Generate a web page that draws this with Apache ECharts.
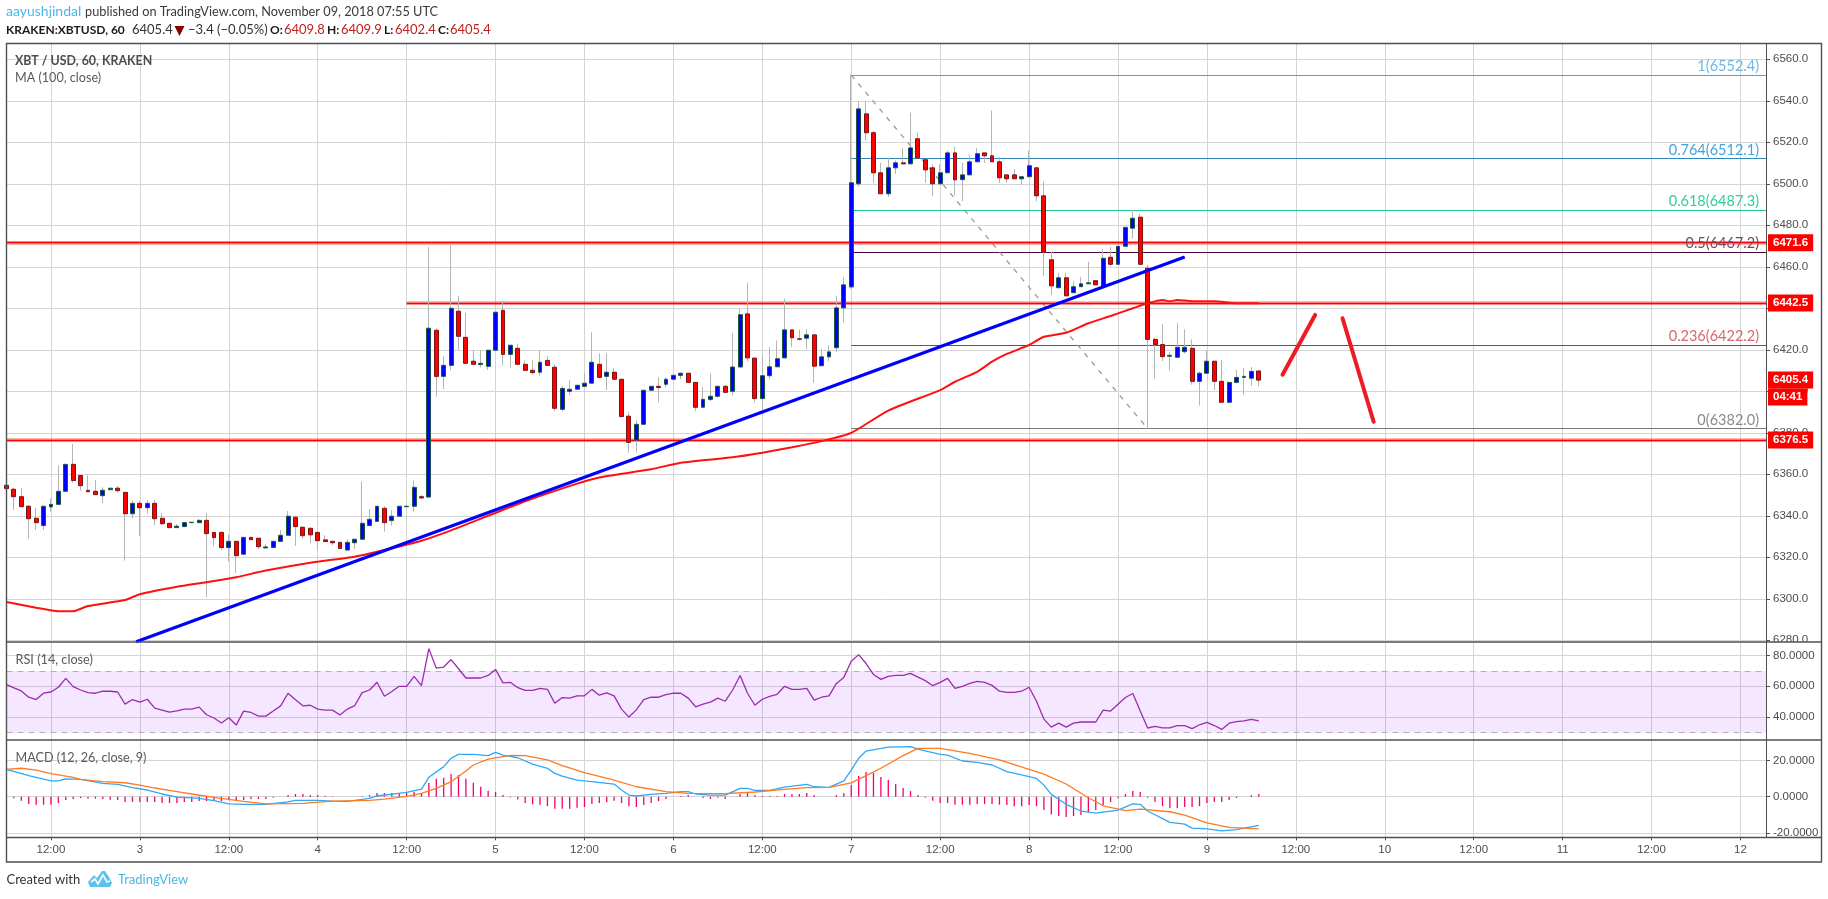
<!DOCTYPE html>
<html><head><meta charset="utf-8">
<style>html,body{margin:0;padding:0;background:#fff}#c{width:1828px;height:899px}</style>
<script src="https://cdn.jsdelivr.net/npm/echarts@6/dist/echarts.min.js"></script>
</head><body><div id="c"></div>
<script>
// Hours are counted from 3 Nov 2018 00:00 UTC; the first candle is at hour -18.
const firstHour = -18;
const opens = [6354.7,6352.8,6349.2,6344.6,6338.8,6335.3,6344.3,6345.5,6351.8,6364.8,6359.4,6352.3,6351.8,6349.7,6352.6,6353.3,6351.3,6341,
6346,6343.9,6346,6338.8,6336.4,6334.3,6334.8,6336.7,6336.7,6337.8,6332,6332,6324.7,6327.7,6321.5,6329.6,6329.2,6324.5,6324.7,6327.7,6330.6,6339.3,6334.5,6334,
6332,6328.4,6327.7,6327.2,6323.5,6327,6328.7,6335.3,6337.3,6343.6,6337.7,6339.8,6344.4,6344.6,6349.2,6349,6429.4,6407.2,6412.5,6438.6,6426,6414.5,6412.9,6412,
6419.8,6439,6417.8,6420.7,6413,6410.1,6409.2,6414.9,6411.6,6391.3,6400,6401,6402.4,6403.9,6413,6407.2,6409.2,6405.8,6388,6376.5,6384.1,6400.5,6402.4,6403.4,
6405.8,6407.7,6408.7,6404.3,6392.3,6396.1,6397.6,6402.4,6400,6411.7,6437.3,6416,6396.5,6407.5,6411.8,6416.1,6429.6,6425.3,6425.6,6427.2,6412.3,6416.6,6421,6440.2,
6450.3,6500,6533.7,6524.6,6505.3,6495.2,6507.7,6510.1,6509.6,6521.7,6511.6,6507.7,6500,6505.3,6514.9,6502,6504.3,6510.6,6514.9,6513.5,6510.6,6504.3,6504.3,6502.4,
6503.4,6507.7,6494.2,6463.4,6449.9,6454.7,6447.5,6450.4,6451.8,6453.3,6450.8,6464.6,6461.2,6469.9,6478.6,6483.9,6459.3,6425,6422.5,6416.9,6416.4,6419.1,6420.7,6404.8,
6408.7,6414.5,6404.8,6394.7,6404.3,6406.7,6406.3,6409.8];
const closes = [6353.1,6349.2,6344.4,6338.6,6336.7,6344.6,6345.5,6351.8,6364.8,6357,6354.5,6351.6,6350.2,6352.3,6353.3,6352.1,6341,6346,
6343.9,6346,6338.6,6336.2,6334.3,6335,6336.7,6336.9,6337.8,6331.4,6329.5,6324.7,6327.7,6320.8,6329.6,6328.5,6325.1,6325,6327.7,6330.6,6339.8,6334.8,6330.4,6330.8,
6328,6327.6,6327,6324.2,6327.2,6328.7,6336.4,6338.3,6344.6,6336.7,6339.8,6344.6,6344.6,6353.7,6348.6,6430.4,6407.2,6412.5,6440,6426.5,6413.5,6413,6413.5,6419.8,
6438.1,6417.8,6422.2,6413,6410.1,6409,6414,6412.5,6391.8,6401.4,6401,6402.9,6403.9,6414,6406.7,6409.2,6405.8,6387.8,6375.4,6384.1,6400.5,6402.4,6401.8,6405.8,
6407.7,6408.7,6404.3,6392.3,6396.1,6397.6,6402.4,6399.5,6411.7,6436.9,6416.1,6396.5,6407.5,6411.8,6415.7,6429.6,6425.8,6425.1,6427.2,6412.1,6416.6,6419,6440.2,6451.3,
6500.5,6536.1,6524.6,6505.3,6495.2,6507.7,6510.1,6509.6,6517.3,6512.5,6506.7,6500,6505.3,6514.9,6501.9,6504.3,6510.6,6514.5,6513.5,6510.6,6502.9,6502.4,6502.4,6503.4,
6508.7,6494.2,6467.2,6450.8,6454.7,6446,6450.4,6451.8,6452.3,6451.3,6464.1,6461.2,6469.9,6479,6483.4,6461.2,6425,6422.5,6416.7,6417.3,6421.2,6421.2,6404.8,6408.7,
6414.5,6404.8,6394.7,6404.3,6406.7,6407.2,6409.6,6405.4];
const lows = [6352,6342.8,6344,6329,6333.2,6333.2,6342,6345.5,6351.8,6356,6352.1,6351.6,6350.2,6346.2,6352.1,6351.2,6318.4,6338.6,
6330.3,6341,6335.6,6335.6,6334,6334.3,6334.8,6336.7,6336.7,6300.8,6325.5,6323.5,6317.9,6312.4,6321,6328.5,6324,6324.5,6324.7,6327.7,6330.6,6325.5,6329,6326.9,
6323.5,6327.6,6325.8,6324.2,6323.5,6324,6328.7,6335.3,6337.3,6332.4,6335.3,6339.8,6344.4,6342,6348,6349,6397.4,6401.1,6410.3,6419.9,6413.5,6413,6411.4,6410.3,
6419.8,6412.4,6411.4,6413,6410.1,6408,6407.6,6412.5,6390.4,6390.4,6398,6401,6402.4,6403.9,6406.7,6400.6,6405.8,6387.8,6370.4,6370.4,6384.1,6400.5,6394.7,6401.9,
6405.8,6405.8,6404.3,6390.4,6392.3,6395.2,6397,6399.5,6398,6411.7,6414.5,6394.7,6391,6405.7,6411.8,6416.1,6421.3,6424.5,6420.2,6404.1,6412.3,6414.5,6419,6433.3,
6449.4,6498.6,6521,6500.5,6495.2,6493.7,6504.8,6509.6,6509.6,6512.5,6500.5,6494,6500,6505.3,6494.4,6491.6,6504.3,6510.6,6510,6510.6,6500.5,6500.5,6502.4,6499.4,
6503.4,6491.6,6455.5,6446.5,6449.9,6446,6447.5,6450.4,6451.8,6451.3,6450.8,6460.1,6461.2,6469.9,6473.7,6461.2,6381.7,6406.1,6414.6,6410,6416.4,6418.2,6403.2,6393.1,
6408.7,6400.6,6394.7,6394.2,6404.3,6398.4,6402.7,6402.4];
const highs = [6355,6353.3,6353.3,6345.2,6344,6344.6,6348.4,6364.3,6364.8,6374.6,6359.4,6359.5,6357.3,6353.7,6353.3,6354.4,6351.3,6347.2,
6347.2,6347.6,6347.6,6341.2,6336.5,6336,6336.7,6336.9,6338.6,6341.2,6332,6332.5,6331,6327.7,6329.6,6329.6,6329.2,6326.3,6328,6333.2,6342.3,6340,6334.5,6334,
6332,6330.6,6327.7,6327.5,6328.7,6328.7,6356.5,6343.3,6344.6,6344.6,6342.8,6344.6,6344.6,6357,6350,6469.6,6430.4,6417,6471.3,6445.9,6437.8,6419.9,6419.8,6419.8,
6438.1,6443.5,6422.2,6422.7,6414.9,6414.9,6419.8,6416.9,6413,6402.4,6405.3,6402.9,6408.7,6428.4,6418.3,6418.3,6411.1,6405.8,6389.9,6386.2,6400.5,6402.4,6406.7,6406.7,
6407.7,6409.2,6408.7,6404.3,6402.1,6408.7,6402.4,6403,6428.2,6439.8,6452.3,6416,6417,6421.3,6424.5,6444.7,6429.6,6429.8,6430.1,6427.2,6420.5,6422.1,6446,6455.2,
6552.7,6539.8,6539.8,6525.4,6510.1,6512.5,6511.2,6517.3,6534.2,6524.6,6511.6,6509.3,6509.3,6516,6517.8,6510.1,6514.1,6517.3,6514.9,6535.3,6513,6504.3,6507,6503.4,
6516,6507.7,6501,6467.2,6457.1,6457.1,6453,6455.2,6462.4,6453.3,6468.4,6469.7,6469.9,6479,6487.4,6485.5,6460.9,6426,6432.3,6418.8,6432.8,6429.9,6425,6409.6,
6419.8,6414.5,6415.1,6404.3,6410.3,6411.2,6411.7,6409.9];
const maPoints = [[-18,6298.5],[-14,6295.7],[-11,6294],[-9,6294],[-7,6296.5],[-2,6299.4],[0,6302.2],[5,6305.8],[9,6308],[13,6310.4],[17,6313.6],[23,6317.4],[29,6320.3],[33,6323.5],[38,6328],[42,6333],[47,6340],[52,6347],[59,6355.5],[62,6358.5],[69,6362.4],[73,6365.6],[80,6368.2],[84,6370.4],[88,6373],[92,6376],[96,6380],[101,6390.7],[108,6400.6],[110,6404.6],[113,6409.4],[115,6414.3],[117,6418],[120,6422.3],[122,6426.3],[125,6428.2],[128,6432.8],[131,6436.3],[134,6440],[136,6442.4],[138,6444],[139,6443.4],[140,6444],[142,6443.4],[145,6443.4],[148,6442.4],[151,6442.4]];
const trendLine = [[-0.5,6279.3],[141,6464.7]];
const arrowUp = [[154.2,6408],[158.6,6436.8]];
const arrowDown = [[162.3,6435.2],[166.5,6385.3]];
const fibLevels = [[1,6552.4,'#5b9fc9','#6cb7e6'],[0.764,6512.1,'#2f86bd','#46a3de'],[0.618,6487.3,'#1fc795','#2fcf9d'],[0.5,6467.2,'#4a0c38','#6e4a66'],[0.236,6422.2,'#c92a2a','#d9686a'],[0,6382.0,'#7a7a7a','#8a8a8a']];
const fibStart = 96, fibEnd = 136;
const rsi = [61.1,59,57,52.9,51.4,55.5,56.3,59.4,65.2,59.8,57.6,55.9,55.5,56.8,56.8,56.3,48.4,51.4,
49.7,51.6,45.8,44.5,43.2,44.1,45.2,45.2,46.5,41.5,39.4,36.1,39.6,34.8,43.9,43,40.6,40.6,43.9,47.3,55.5,51.2,47.3,47.7,
45.2,44.5,44.5,41.3,45.2,47.5,55.9,57.6,62.6,53.5,56.6,60,60,66.5,60.4,84.5,71.8,72.5,77.4,71.4,65.4,65.4,65.4,67.1,
71,62.2,62.6,59.1,57.4,57.4,58.7,58,49,52.7,52.3,53.8,53.8,58,54.2,55.7,53.8,45.2,40,44.7,51.4,52.9,52.9,54.6,
55.5,55.5,52.3,46.7,48.4,49.7,52.3,50.3,57.6,67,55.5,47.7,51.6,53.5,54.8,60,58,58,58.7,51,52.9,53.8,61.9,65.8,
76.3,80.6,74.8,67.7,64.5,66.5,67.1,67.1,68.4,66,63.7,60.4,62.6,65.2,58.7,60,61.9,63.2,62.6,60.6,56.8,56.1,56.1,56.8,
59.4,50.3,38.7,33.5,36.1,33.5,36.1,36.8,36.8,36.8,44.5,43.9,48.4,52.7,55.3,43.9,32.9,34,33,33,34.5,34.5,32.5,35,
36.5,34.5,32,36,37,37.5,38.5,37.5];
const macdLine = [[-18,15.1],[-15,11.6],[-12,8.7],[-11,8.7],[-10,9.8],[-8,9.6],[-5,7.4],[-3,6.8],[-1,5],[1,3.7],[3,1.5],[5,-0.2],[8,-0.9],[10,-2.2],[12,-3.9],[14,-4.2],[17,-4.2],[20,-2.8],[21,-2],[24,-2],[26,-2.4],[28,-2.6],[31,-0.9],[32,0.4],[36,2.4],[38,4.2],[39,10.7],[41,16.6],[42,21.2],[43,23.4],[45,23.4],[47,22.7],[48,24.5],[49,23],[51,21.5],[53,18],[55,15.7],[56,12.9],[57,11.4],[59,9.2],[60,8.7],[64,7],[65,3.7],[66,0.9],[67,0.4],[69,1.3],[71,1.8],[73,2.8],[74,2.8],[75,1.5],[77,0.9],[79,0.9],[81,4.6],[82,4.6],[83,3.5],[85,3.5],[87,5.3],[90,6.8],[91,5.5],[93,5.2],[95,8.7],[96,14.7],[97,21.2],[98,25.2],[101,27.4],[104,27.6],[105,26.3],[108,23.4],[109,23],[111,19.7],[113,19],[115,17.5],[117,13.8],[119,12],[121,10.1],[122,6.4],[123,1.3],[125,-4.2],[127,-7.9],[129,-9],[132,-7.4],[134,-4],[135,-4.2],[136,-7.9],[139,-14.2],[141,-15.1],[142,-17.3],[144,-17.7],[146,-18.8],[148,-18.2],[151,-15.8]];
const signalLine = [[-18,15.1],[-16,15.7],[-14,14.7],[-12,12.7],[-9,10.7],[-8,9.6],[-5,8.3],[-2,7.7],[0,6.4],[2,4.8],[5,2.8],[7,1.5],[10,-0.4],[14,-2.6],[17,-3.9],[22,-3.7],[26,-2.4],[31,-2],[33,-1.3],[36,0.2],[38,1.8],[40,4.6],[42,8.3],[44,14.2],[45,17.5],[47,20.8],[50,22.8],[52,22.7],[55,20.3],[57,17.1],[60,13.3],[64,9.2],[67,5.5],[71,2.8],[74,1.8],[79,1.7],[83,2.6],[87,4],[90,5],[93,5.2],[96,7.6],[98,11.6],[100,15.7],[103,22.7],[105,26.7],[108,26.7],[112,23.9],[116,20.3],[120,15.1],[122,12.5],[125,7],[128,-0.6],[130,-5],[133,-7.7],[135,-6.8],[139,-8.3],[141,-10.1],[144,-14.4],[147,-16.9],[151,-17.7]];
const macdHist = [0,-0.9,-2.2,-4,-4.4,-4.4,-4.4,-3.5,-1.8,-1.3,-0.7,-1.1,-1.1,-1.3,-1.7,-1.8,-2.9,-2.9,
-2.9,-2.9,-2.9,-3.5,-3.5,-3.5,-2.9,-2.9,-2.4,-2.4,-2,-2.4,-2,-2,-1.8,-1.3,-1.3,-1.3,-0.6,0,0.9,1.5,1.5,0.9,
0.9,0.5,0.3,0,0,0,0.3,0.9,2,2,2,1.7,2,2.8,2,7.6,9.9,10.5,12.5,12,9.9,7.7,5.5,3.3,
2.6,0.9,-0.4,-1.5,-3.5,-4.2,-4.4,-5.2,-6.6,-6.6,-6.6,-6.1,-5.7,-4,-3.5,-3.1,-2.2,-3.5,-5.3,-5.7,-4.6,-3.5,-2.4,-1.3,
0,0.4,0.9,0,-0.7,-1.3,-0.6,-1.3,0,1.5,2.2,0.9,0.4,0.4,0.4,1.5,1.5,1.5,2,0.9,0,0,0.9,2,
6.4,11.4,13.6,13.1,10.9,9.2,7,4.8,3.1,0.9,-0.6,-2.2,-3.5,-3.5,-4.4,-4.4,-4.4,-4,-4,-4,-4.4,-4.6,-5.2,-5.2,
-4.6,-5.2,-7.4,-9.8,-10.7,-11.2,-10.7,-10.1,-8.7,-7.4,-4.6,-2.9,-0.9,1.5,3.1,2.6,-0.6,-2.9,-5.2,-6.3,-6.3,-5.7,-5.7,-5.2,
-3.5,-2.9,-2.9,-1.8,-0.7,0,0.9,1.5];
const priceTicks = [6280,6300,6320,6340,6360,6380,6400,6420,6440,6460,6480,6500,6520,6540,6560];
const rsiTicks = [40,60,80];
const macdTicks = [-20,0,20];
const timeTicks = [-12,0,12,24,36,48,60,72,84,96,108,120,132,144,156,168,180,192,204,216];
const timeLabels = ['12:00','3','12:00','4','12:00','5','12:00','6','12:00','7','12:00','8','12:00','9','12:00','10','12:00','11','12:00','12'];
const levelResist1 = 6471.6, levelResist2 = 6442.5, levelSupport = 6376.5, lastPrice = '6405.4', countdown = '04:41';
const level2Start = 36;

const hourOf = i => firstHour + i;
const wickData = opens.map((o,i)=>[hourOf(i),o,closes[i],lows[i],highs[i]]);
const bodyData = opens.map((o,i)=>[hourOf(i),o,closes[i],Math.min(o,closes[i]),Math.max(o,closes[i])]);
const rsiData = rsi.map((v,i)=>[hourOf(i),v]);
const histData = macdHist.map((v,i)=>[hourOf(i),v]);

const GL='#d4d4d4', AX='#505050', TXT='#4d4d4d';
const LEFT=6.5, RIGHT=1766, PX=7.41;
const xMax = firstHour + (RIGHT-LEFT)/PX;
const gridRects=[[44,598],[642,98],[740,97.3]];
function xAxis(i,showLabel){return {type:'value',gridIndex:i,min:firstHour,max:xMax,position:'bottom',
  axisLine:{show:false,onZero:false},
  axisTick:{show:showLabel,customValues:timeTicks,length:3,lineStyle:{color:AX}},
  splitLine:{show:true,lineStyle:{color:GL,width:1}},
  axisLabel:{show:showLabel,customValues:timeTicks,margin:7,color:TXT,fontFamily:'Liberation Sans',fontSize:11.5,
    formatter:v=>timeLabels[timeTicks.indexOf(v)]||''}};}
function yAxis(i,min,max,ticks,fmt){return {type:'value',gridIndex:i,position:'right',min,max,scale:true,
  axisLine:{show:true,onZero:false,lineStyle:{color:AX,width:1}},
  axisTick:{show:true,customValues:ticks,length:4,lineStyle:{color:AX}},
  splitLine:{show:true,lineStyle:{color:GL,width:1}},
  axisLabel:{customValues:ticks,margin:7,color:TXT,fontFamily:'Liberation Sans',fontSize:11.5,formatter:fmt}};}

function tag(txt){return {show:true,position:'end',distance:2,formatter:txt,backgroundColor:'#ff0000',color:'#fff',fontWeight:'bold',
  fontFamily:'Liberation Sans',fontSize:11.5,padding:[3,5,3,5],lineHeight:11};}
const halo={color:'rgba(255,0,0,0.38)',width:3.6,type:'solid'}, core={color:'#ff0000',width:1.4,type:'solid'};
const hidden={color:'rgba(0,0,0,0)',width:1,type:'solid'};
const noLabel={show:false};
function hLevel(v,start,label){
  return [
   [{coord:[start,v],lineStyle:halo,label:noLabel},{coord:[xMax,v]}],
   [{coord:[start,v],lineStyle:core,label:label?tag(label):noLabel},{coord:[xMax,v]}]];
}
const levelLines=[...hLevel(levelResist1,firstHour,String(levelResist1)),...hLevel(levelResist2,level2Start,String(levelResist2)),...hLevel(levelSupport,firstHour,String(levelSupport)),
  [{coord:[firstHour,6405.4],lineStyle:hidden,label:tag(lastPrice)},{coord:[xMax,6405.4]}],
  [{coord:[firstHour,6397.2],lineStyle:hidden,label:tag(countdown)},{coord:[xMax,6397.2]}]];
const fibLines=fibLevels.map(f=>[
  {coord:[fibStart,f[1]],lineStyle:{color:f[2],width:1.2,type:'solid'},
   label:{show:true,position:'insideEndTop',distance:[7,1],formatter:f[0]+'('+f[1].toFixed(1)+')',color:f[3],fontFamily:'Lato',fontSize:14.5}},
  {coord:[xMax,f[1]]}]);
fibLines.push([{coord:[fibStart,fibLevels[0][1]],lineStyle:{color:'#9a9a9a',width:1.3,type:[5,6]},label:noLabel},{coord:[fibEnd,fibLevels[5][1]]}]);

function T(x,y,text,font,fill,extra){return Object.assign({type:'text',z:120,silent:true,style:{x,y,text,font,fill,verticalAlign:'middle'}},extra||{});}
const F13='13px Lato',B13='bold 12px Lato';
const graphics=[
 {type:'rect',z:100,silent:true,shape:{x:RIGHT+1,y:642,width:54,height:8},style:{fill:'#fff'}},
 {type:'rect',z:110,silent:true,shape:{x:6.5,y:43.5,width:1815,height:818.5},style:{fill:'none',stroke:AX,lineWidth:1.4}},
 {type:'line',z:110,silent:true,shape:{x1:6.5,y1:642,x2:1821.5,y2:642},style:{stroke:AX,lineWidth:1.4}},
 {type:'line',z:110,silent:true,shape:{x1:6.5,y1:740,x2:1821.5,y2:740},style:{stroke:AX,lineWidth:1.4}},
 {type:'line',z:110,silent:true,shape:{x1:6.5,y1:837.5,x2:1821.5,y2:837.5},style:{stroke:AX,lineWidth:1.4}},
 T(6,11.5,'aayushjindal','14px Lato','#4db6ec'),
 T(85,11.5,'published on TradingView.com, November 09, 2018 07:55 UTC','12.75px Lato','#3a3a3a'),
 T(6,30,'KRAKEN:XBTUSD, 60',B13,'#1a1a1a'),
 T(132,30,'6405.4',F13,'#333'),
 {type:'polygon',z:120,silent:true,shape:{points:[[174.5,26],[184.5,26],[179.5,36]]},style:{fill:'#8b0000'}},
 T(188,30,'−3.4 (−0.05%)',F13,'#333'),
 T(270,30,'O:',B13,'#1a1a1a'),T(284,30,'6409.8',F13,'#c0201e'),
 T(327,30,'H:',B13,'#1a1a1a'),T(341,30,'6409.9',F13,'#c0201e'),
 T(384,30,'L:',B13,'#1a1a1a'),T(395,30,'6402.4',F13,'#c0201e'),
 T(438,30,'C:',B13,'#1a1a1a'),T(450,30,'6405.4',F13,'#c0201e'),
 T(15,60.5,'XBT / USD, 60, KRAKEN','bold 12.4px Lato','#4d4d4d'),
 T(15,77.5,'MA (100, close)','12.6px Lato','#5a5a5a'),
 T(15.5,659.5,'RSI (14, close)','12.7px Lato','#5a5a5a'),
 T(15.5,758,'MACD (12, 26, close, 9)','12.6px Lato','#5a5a5a'),
 T(6.5,880,'Created with','13px Lato','#333'),
 {type:'polygon',z:120,silent:true,shape:{points:[[88,882],[94,875],[97,878],[102,871],[105,871],[109,877],[112,883],[110,887],[90,887]]},style:{fill:'#5cc3ec'}},
 {type:'polyline',z:121,silent:true,shape:{points:[[91,882],[95,879],[98,884],[103,875],[107,882],[110,881]]},style:{fill:'none',stroke:'#fff',lineWidth:1.6}},
 T(118,880,'TradingView','13px Lato','#4db6e6')
];

const option={animation:false,backgroundColor:'#fff',
 grid:gridRects.map(r=>({left:LEFT,width:RIGHT-LEFT,top:r[0],height:r[1],show:false,containLabel:false})),
 xAxis:[xAxis(0,false),xAxis(1,false),xAxis(2,true)],
 yAxis:[yAxis(0,6279.18,6567.37,priceTicks,v=>v.toFixed(1)),
        yAxis(1,25.1,88.8,rsiTicks,v=>v.toFixed(4)),
        yAxis(2,-22.4,31.3,macdTicks,v=>v.toFixed(4))],
 graphic:{elements:graphics},
 series:[
  {type:'line',name:'levels',xAxisIndex:0,yAxisIndex:0,z:2,data:[],symbol:'none',
   markLine:{silent:true,symbol:'none',animation:false,z:2,data:[...fibLines,...levelLines]}},
  {type:'candlestick',name:'wicks',xAxisIndex:0,yAxisIndex:0,z:3,barWidth:1,data:wickData,encode:{x:0,y:[1,2,3,4]},silent:true,
   itemStyle:{color:'#b4b4b4',color0:'#b4b4b4',borderColor:'#b4b4b4',borderColor0:'#b4b4b4',borderWidth:1}},
  {type:'candlestick',name:'XBTUSD',xAxisIndex:0,yAxisIndex:0,z:4,barWidth:4.4,data:bodyData,encode:{x:0,y:[1,2,3,4]},silent:true,
   itemStyle:{color:'#0000ff',color0:'#ff0000',borderColor:'#1d5a3a',borderColor0:'#7a1414',borderWidth:1}},
  {type:'line',name:'MA',xAxisIndex:0,yAxisIndex:0,z:5,data:maPoints,symbol:'none',smooth:0.2,lineStyle:{color:'#ff1010',width:2}},
  {type:'line',name:'trend',xAxisIndex:0,yAxisIndex:0,z:6,data:trendLine,symbol:'none',lineStyle:{color:'#0000ff',width:3.2}},
  {type:'line',name:'arrowUp',xAxisIndex:0,yAxisIndex:0,z:6,data:arrowUp,symbol:'none',lineStyle:{color:'#ed1c24',width:4,cap:'round'}},
  {type:'line',name:'arrowDown',xAxisIndex:0,yAxisIndex:0,z:6,data:arrowDown,symbol:'none',lineStyle:{color:'#ed1c24',width:4,cap:'round'}},
  {type:'line',name:'RSI',xAxisIndex:1,yAxisIndex:1,z:5,data:rsiData,symbol:'none',lineStyle:{color:'#9c2cae',width:1.3},
   markArea:{silent:true,itemStyle:{color:'rgba(153,21,255,0.10)'},data:[[{yAxis:70},{yAxis:30}]]},
   markLine:{silent:true,symbol:'none',animation:false,label:{show:false},lineStyle:{color:'#b9adba',width:1,type:[6,5]},data:[{yAxis:70},{yAxis:30}]}},
  {type:'bar',name:'hist',xAxisIndex:2,yAxisIndex:2,z:3,data:histData,barWidth:1.3,itemStyle:{color:'#f5006a'},silent:true},
  {type:'line',name:'MACD',xAxisIndex:2,yAxisIndex:2,z:5,data:macdLine,symbol:'none',lineStyle:{color:'#2fa8f5',width:1.3}},
  {type:'line',name:'Signal',xAxisIndex:2,yAxisIndex:2,z:5,data:signalLine,symbol:'none',lineStyle:{color:'#ff7a20',width:1.3}}
 ]};
echarts.init(document.getElementById('c'),null,{renderer:'canvas'}).setOption(option);
</script></body></html>
